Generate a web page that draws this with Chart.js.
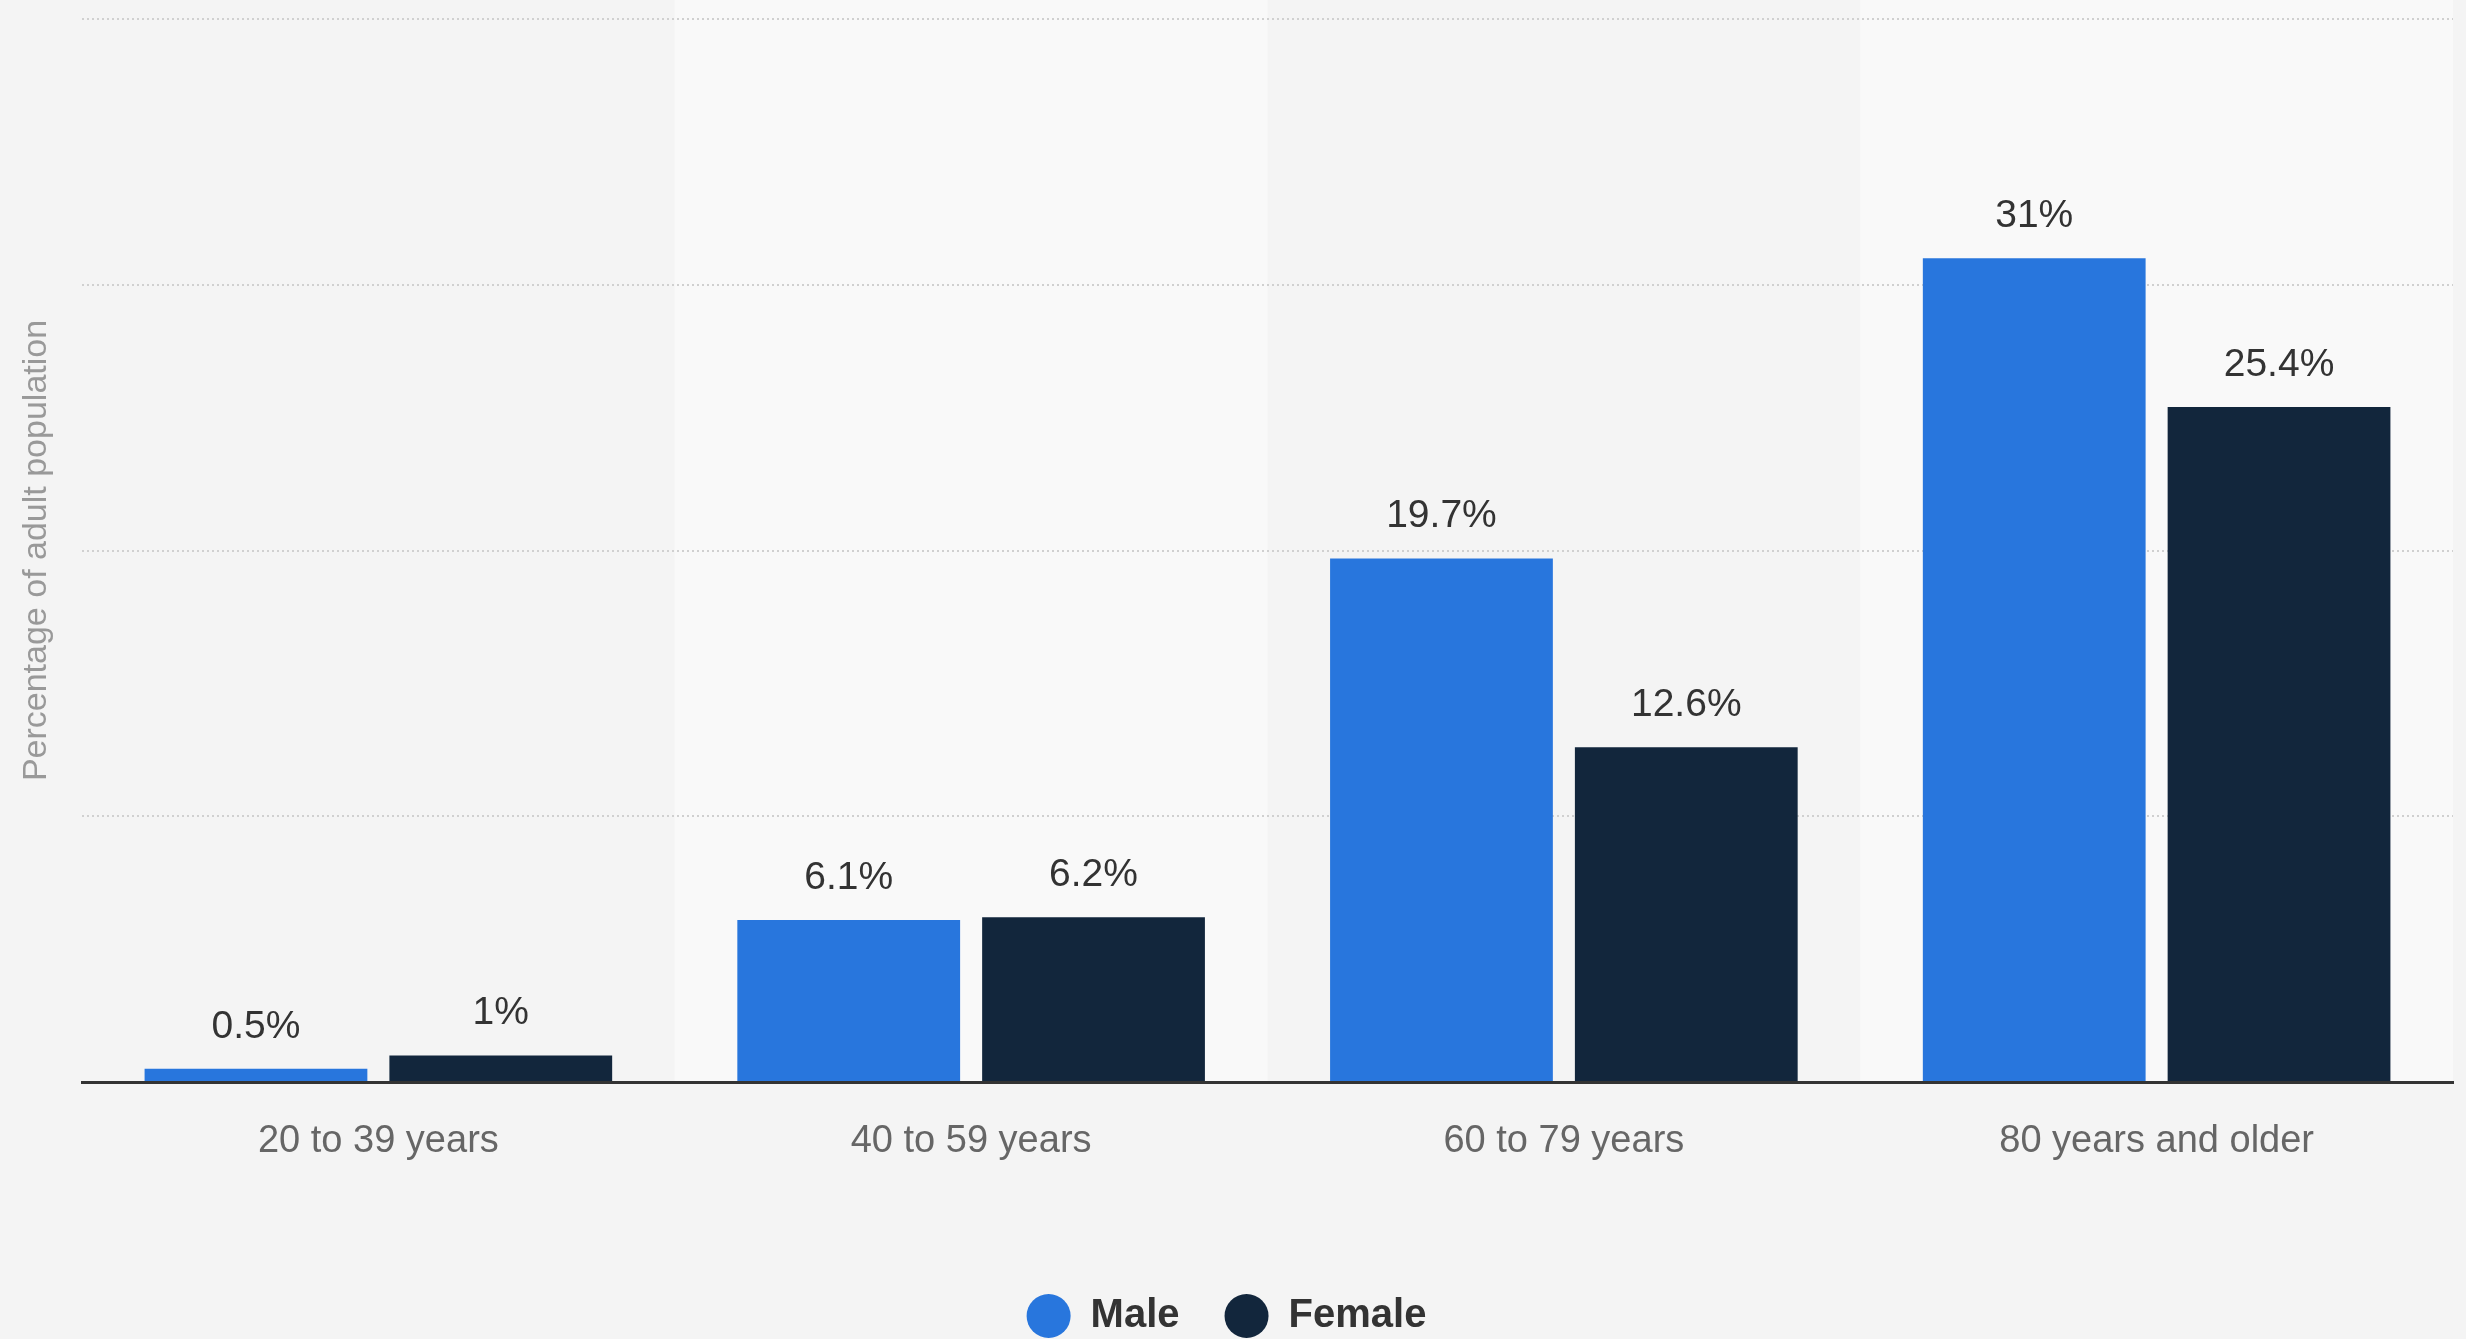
<!DOCTYPE html>
<html>
<head>
<meta charset="utf-8">
<script src="https://cdn.jsdelivr.net/npm/chart.js@4.4.1/dist/chart.umd.min.js"></script>
<style>
  html, body { margin: 0; padding: 0; background: #f4f4f4; overflow: hidden; }
  #wrap { width: 2466px; height: 1339px; }
</style>
</head>
<body>
<div id="wrap"><canvas id="c" width="2466" height="1339"></canvas></div>
<script>
// ---- data ----
const categories = ["20 to 39 years", "40 to 59 years", "60 to 79 years", "80 years and older"];
const seriesNames = ["Male", "Female"];
const maleValues = [0.5, 6.1, 19.7, 31];
const femaleValues = [1, 6.2, 12.6, 25.4];
const yAxisTitle = "Percentage of adult population";
const yMin = 0;
const yMax = 40;
const yStep = 10;

// ---- styles ----
const FONT = "'Liberation Sans', Arial, Helvetica, sans-serif";
const maleColor = "#2876dd";
const femaleColor = "#12263c";

const bandPlugin = {
  id: 'bands',
  beforeDraw(chart) {
    const ctx = chart.ctx;
    const x = chart.scales.x;
    const area = chart.chartArea;
    ctx.save();
    ctx.fillStyle = '#f4f4f4';
    ctx.fillRect(0, 0, chart.width, chart.height);
    const n = categories.length;
    const w = (area.right - area.left) / n;
    ctx.fillStyle = '#f9f9f9';
    for (let i = 0; i < n; i++) {
      if (i % 2 === 1) {
        const cx = x.getPixelForValue(i);
        ctx.fillRect(cx - w / 2, 0, w, area.bottom);
      }
    }
    ctx.restore();
  }
};

const labelPlugin = {
  id: 'valueLabels',
  afterDatasetsDraw(chart) {
    const ctx = chart.ctx;
    ctx.save();
    ctx.font = "39px " + FONT;
    ctx.fillStyle = '#333333';
    ctx.textAlign = 'center';
    ctx.textBaseline = 'alphabetic';
    chart.data.datasets.forEach((ds, di) => {
      const meta = chart.getDatasetMeta(di);
      meta.data.forEach((el, i) => {
        ctx.fillText(String(ds.data[i]) + '%', el.x, el.y - 31);
      });
    });
    ctx.restore();
  }
};

new Chart(document.getElementById('c'), {
  type: 'bar',
  data: {
    labels: categories,
    datasets: [
      { label: seriesNames[0], data: maleValues, backgroundColor: maleColor, borderWidth: 0 },
      { label: seriesNames[1], data: femaleValues, backgroundColor: femaleColor, borderWidth: 0 }
    ]
  },
  options: {
    responsive: false,
    devicePixelRatio: 1,
    animation: false,
    events: [],
    barPercentage: 0.91,
    categoryPercentage: 0.826,
    layout: { padding: { top: 19, right: 13, bottom: -7, left: 0 } },
    plugins: {
      tooltip: { enabled: false },
      legend: {
        position: 'bottom',
        labels: {
          usePointStyle: true,
          pointStyle: 'circle',
          boxHeight: 31,
          pointStyleWidth: 44,
          padding: 45,
          color: '#333333',
          font: { family: FONT, size: 40, weight: 'bold' }
        }
      }
    },
    scales: {
      x: {
        grid: { display: false, drawTicks: false },
        border: { display: true, color: '#333333', width: 3, z: 1 },
        ticks: { color: '#666666', padding: 37, font: { family: FONT, size: 38 } },
        afterFit(scale) { scale.height = 169; }
      },
      y: {
        min: yMin,
        max: yMax,
        ticks: { display: false, stepSize: yStep },
        grid: { color: '#d0d0d0', lineWidth: 2, drawTicks: false },
        border: { display: false, dash: [2, 3] },
        title: {
          display: true,
          text: yAxisTitle,
          color: '#999999',
          padding: { top: 16, bottom: 0 },
          font: { family: FONT, size: 34 }
        },
        afterFit(scale) { scale.width = 82; }
      }
    }
  },
  plugins: [bandPlugin, labelPlugin]
});
</script>
</body>
</html>
